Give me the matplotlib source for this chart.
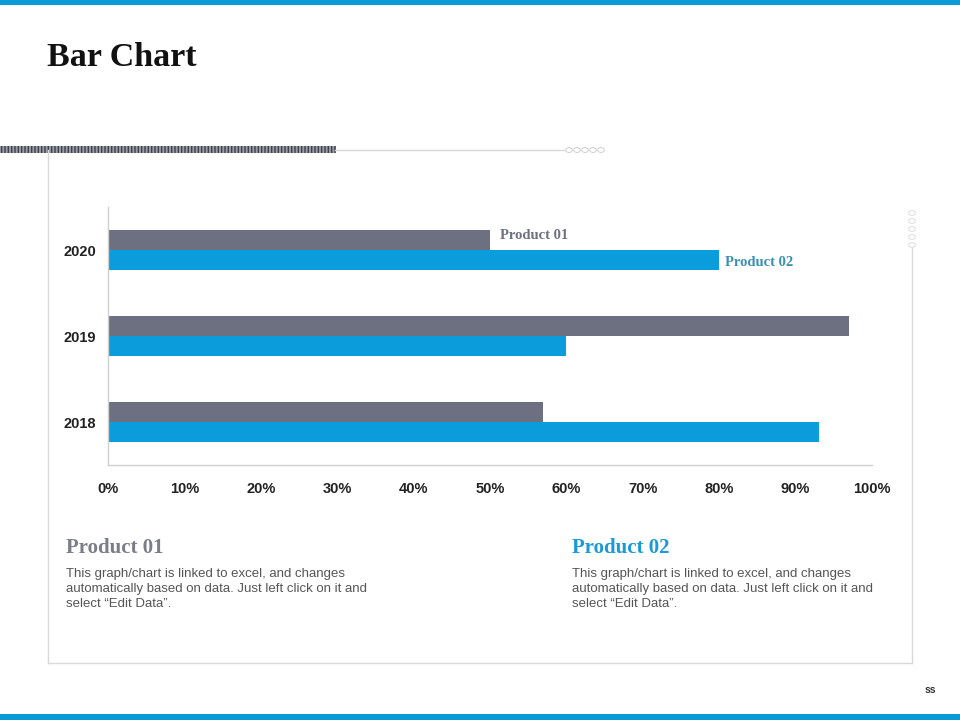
import matplotlib
matplotlib.use("Agg")
import matplotlib.pyplot as plt
from matplotlib.patches import Rectangle, Circle
from matplotlib.lines import Line2D
import numpy as np

years = ["2020", "2019", "2018"]
product01 = [0.50, 0.97, 0.57]
product02 = [0.80, 0.60, 0.93]
xticks = [0, 0.1, 0.2, 0.3, 0.4, 0.5, 0.6, 0.7, 0.8, 0.9, 1.0]
xticklabels = ["0%", "10%", "20%", "30%", "40%", "50%", "60%", "70%", "80%", "90%", "100%"]

GREY = "#6d7081"
BLUE = "#0b9ddb"
W, H = 960, 720

fig = plt.figure(figsize=(9.6, 7.2), dpi=100)

def fx(px):
    return px / W

def fy(py):
    return 1 - py / H

# top / bottom blue bands
fig.add_artist(Rectangle((0, fy(5)), 1, 5 / H, transform=fig.transFigure, color="#0a9ad6", lw=0))
fig.add_artist(Rectangle((0, 0), 1, 6 / H, transform=fig.transFigure, color="#0a9ad6", lw=0))

# title
fig.text(fx(47), fy(57), "Bar Chart", fontsize=24.5, fontweight="bold",
         family="Liberation Serif", color="#111111", va="center", ha="left")

# frame lines
lc = "#d9d9d9"
fig.add_artist(Line2D([fx(48), fx(48)], [fy(150), fy(663)], transform=fig.transFigure, color=lc, lw=1))
fig.add_artist(Line2D([fx(48), fx(912)], [fy(663), fy(663)], transform=fig.transFigure, color=lc, lw=1))
fig.add_artist(Line2D([fx(912), fx(912)], [fy(248), fy(663)], transform=fig.transFigure, color=lc, lw=1))
fig.add_artist(Line2D([fx(335), fx(565)], [fy(150), fy(150)], transform=fig.transFigure, color=lc, lw=1))
fig.add_artist(Rectangle((0, fy(153)), fx(336), 7 / H, transform=fig.transFigure,
                         facecolor="#9a9ca6", edgecolor="#3e414c", hatch="|||||", lw=0))
for i in range(5):
    fig.add_artist(Circle((fx(569 + i * 8), fy(150)), 3.3 / W, transform=fig.transFigure,
                          facecolor="white", edgecolor="#d5d5d5", lw=0.8))
for i in range(5):
    fig.add_artist(Circle((fx(912), fy(213 + i * 8)), 3.3 / W, transform=fig.transFigure,
                          facecolor="white", edgecolor="#e0e0e0", lw=0.8))

# axes
ax = fig.add_axes([fx(108), fy(465), fx(872) - fx(108), (465 - 207) / H])
y = np.arange(len(years))
h = 0.232
ax.barh(y - h / 2, product01, height=h, color=GREY)
ax.barh(y + h / 2, product02, height=h, color=BLUE)
ax.set_ylim(2.5, -0.5)
ax.set_xlim(0, 1.0)
ax.set_yticks(y)
ax.set_yticklabels(years, fontsize=10.5, fontweight="bold", family="Liberation Sans", color="#222222")
ax.set_xticks(xticks)
ax.set_xticklabels(xticklabels, fontsize=10.5, fontweight="bold", family="Liberation Sans", color="#222222")
ax.tick_params(axis="x", length=0, pad=12)
ax.tick_params(axis="y", length=0, pad=8.7)
for s in ["top", "right"]:
    ax.spines[s].set_visible(False)
for s in ["left", "bottom"]:
    ax.spines[s].set_color("#d0d0d0")
    ax.spines[s].set_linewidth(1)

ax.text(product01[0] + 0.013, 0 - h / 2 - 0.05, "Product 01", fontsize=10.5, fontweight="bold",
        family="Liberation Serif", color="#6d7081", va="center", ha="left")
ax.text(product02[0] + 0.008, 0 + h / 2 + 0.03, "Product 02", fontsize=10.5, fontweight="bold",
        family="Liberation Serif", color="#3a8fb5", va="center", ha="left")

# text blocks
body = "This graph/chart is linked to excel, and changes\nautomatically based on data. Just left click on it and\nselect \u201cEdit Data\u201d."
fig.text(fx(66), fy(548), "Product 01", fontsize=15, family="Liberation Serif", fontweight="bold",
         color="#7b7d89", va="center", ha="left")
fig.text(fx(572), fy(548), "Product 02", fontsize=15, family="Liberation Serif", fontweight="bold",
         color="#1a9ad6", va="center", ha="left")
fig.text(fx(66), fy(568), body, fontsize=9.5, family="Liberation Sans", color="#555555",
         va="top", ha="left", linespacing=1.32)
fig.text(fx(572), fy(568), body, fontsize=9.5, family="Liberation Sans", color="#555555",
         va="top", ha="left", linespacing=1.32)

fig.text(fx(930), fy(690), "ss", fontsize=7.5, fontweight="bold", family="Liberation Sans",
         color="#333333", va="center", ha="center")

fig.savefig("out.png", dpi=100)
